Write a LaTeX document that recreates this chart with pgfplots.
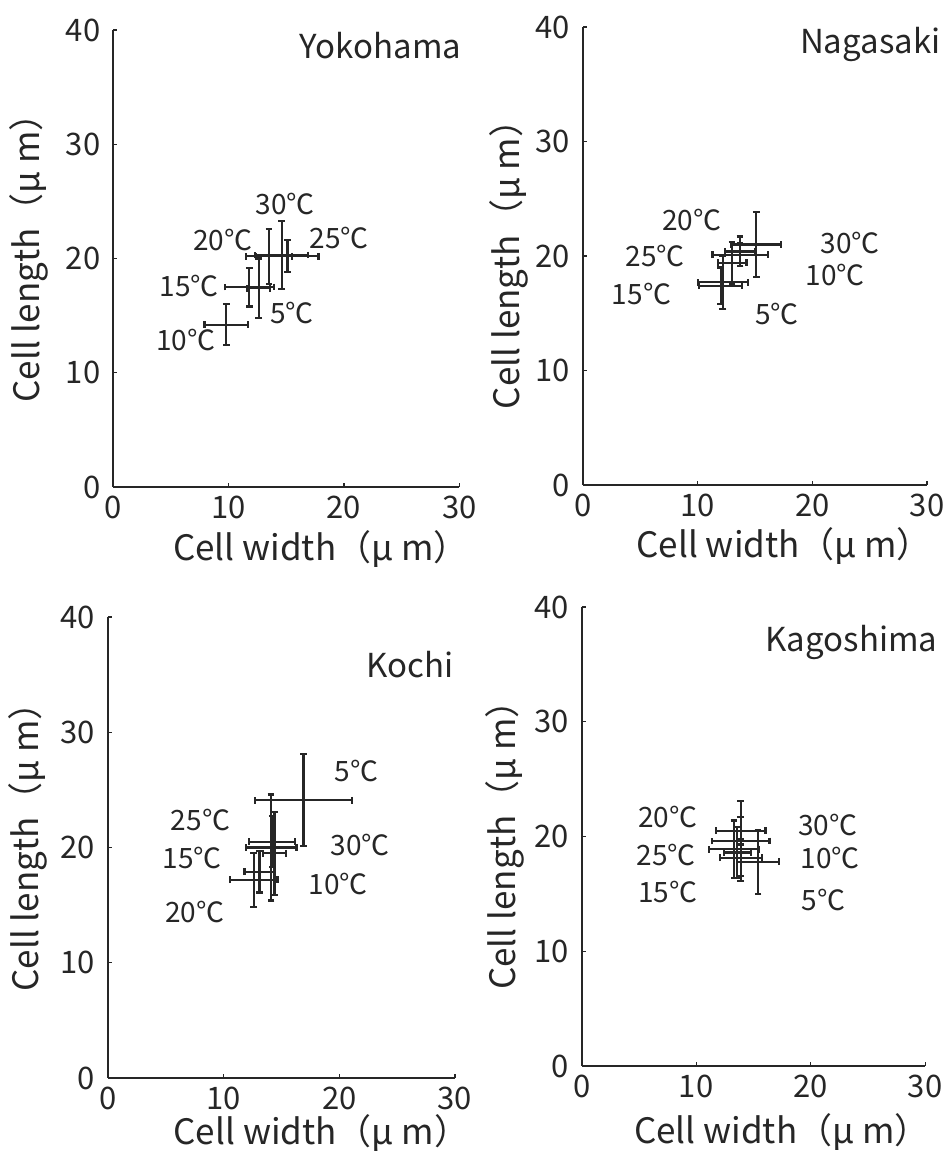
\documentclass[border=0pt]{standalone}
\usepackage{pgfplots}
\pgfplotsset{compat=1.18}
\usepackage{pgfplotstable}
\usepackage{fontspec}
\setmainfont{Noto Sans CJK JP}
\definecolor{ink}{rgb}{0.15,0.15,0.15}

\pgfplotstableread{
T x y ex ey
5 12.6 17.4 1.0 2.6
10 9.8 14.2 1.9 1.8
15 11.8 17.5 2.1 1.7
20 13.5 20.2 2.0 2.4
25 15.1 20.2 2.7 1.4
30 14.6 20.3 2.3 3.0
}\yokohama
\pgfplotstableread{
T x y ex ey
5 12.2 17.7 2.2 2.3
10 13.0 19.4 1.25 1.8
15 12.0 17.4 1.9 1.6
20 13.7 20.1 2.4 1.0
25 13.7 20.4 1.3 1.3
30 15.1 21.0 2.15 2.85
}\nagasaki
\pgfplotstableread{
T x y ex ey
5 16.9 24.1 4.2 4.0
10 14.4 19.5 1.0 3.6
15 13.1 17.9 1.3 1.8
20 12.6 17.2 2.05 2.35
25 14.1 20.0 2.2 4.6
30 14.2 20.5 2.0 2.2
}\kochi
\pgfplotstableread{
T x y ex ey
5 15.4 17.8 1.85 2.8
10 13.9 18.15 1.85 1.6
15 13.6 18.6 1.2 2.2
20 13.9 20.5 2.15 1.2
25 13.3 18.9 2.15 2.5
30 13.9 19.6 2.5 3.5
}\kagoshima

\tikzset{
  tl/.style={font=\fontsize{14}{16}\selectfont, text=ink, inner sep=0pt},
  ttl/.style={font=\fontsize{16.5}{18}\selectfont, text=ink, anchor=east, inner sep=0pt},
}
\pgfplotsset{
  panel/.style={
    scale only axis,
    axis lines=left,
    axis line style={-, ink, line width=0.8pt},
    xmin=0, xmax=30, ymin=0, ymax=40,
    xtick={0,10,20,30}, ytick={0,10,20,30,40},
    tick align=inside, major tick length=2pt,
    tick style={ink, line width=0.6pt},
    ticklabel style={font=\fontsize{15.5}{17}\selectfont, text=ink},
    /pgf/number format/assume math mode=true,
    xticklabel style={yshift=-1pt},
    yticklabel style={xshift=-3pt},
    xlabel={Cell width（μ m）},
    ylabel={Cell length（μ m）},
    clip=false,
  },
  xl/.style 2 args={xlabel style={at={(axis description cs:#1,#2)}, anchor=center,
    font=\fontsize{17.5}{19}\selectfont, text=ink}},
  yl/.style 2 args={ylabel style={at={(axis description cs:#1,#2)}, anchor=center, rotate=0,
    font=\fontsize{17.5}{19}\selectfont, text=ink}},
  eb/.style={draw=none, mark=none, line width=1.1pt,
    error bars/.cd, x dir=both, x explicit, y dir=both, y explicit,
    error bar style={draw=ink, solid, line width=1.1pt},
    error mark=-,
    error mark options={rotate=90, draw=ink, solid, line width=1.1pt, mark size=1.7pt}},
}

\begin{document}
\begin{tikzpicture}
\useasboundingbox (0,0) rectangle (473pt,575.5pt);

% Yokohama
\begin{axis}[panel, at={(56.65pt,332pt)}, anchor=origin, width=173pt, height=228.5pt,
  yl={-0.245}{0.52}, xl={0.6}{-0.135}]
\addplot[eb] table[x=x,y=y,x error=ex,y error=ey]{\yokohama};
\node[ttl] at (axis cs:30.2,38.6) {Yokohama};
\node[tl] at (axis cs:14.9,24.8) {30℃};
\node[tl] at (axis cs:9.5,21.6) {20℃};
\node[tl] at (axis cs:19.6,21.8) {25℃};
\node[tl] at (axis cs:6.6,17.6) {15℃};
\node[tl] at (axis cs:15.5,15.2) {5℃};
\node[tl] at (axis cs:6.3,12.9) {10℃};
\end{axis}

% Nagasaki
\begin{axis}[panel, at={(291.5pt,333pt)}, anchor=origin, width=172pt, height=229pt,
  yl={-0.215}{0.5}, xl={0.585}{-0.133}]
\addplot[eb] table[x=x,y=y,x error=ex,y error=ey]{\nagasaki};
\node[ttl] at (axis cs:31.2,38.5) {Nagasaki};
\node[tl] at (axis cs:9.5,23.1) {20℃};
\node[tl] at (axis cs:6.3,20.0) {25℃};
\node[tl] at (axis cs:23.3,21.1) {30℃};
\node[tl] at (axis cs:22.0,18.3) {10℃};
\node[tl] at (axis cs:5.1,16.7) {15℃};
\node[tl] at (axis cs:16.9,14.9) {5℃};
\end{axis}

% Kochi
\begin{axis}[panel, at={(54pt,36.5pt)}, anchor=origin, width=173.5pt, height=230.5pt,
  yl={-0.23}{0.52}, xl={0.615}{-0.12}]
\addplot[eb] table[x=x,y=y,x error=ex,y error=ey]{\kochi};
\node[ttl] at (axis cs:29.9,35.9) {Kochi};
\node[tl] at (axis cs:21.5,26.6) {5℃};
\node[tl] at (axis cs:8.0,22.4) {25℃};
\node[tl] at (axis cs:21.8,20.2) {30℃};
\node[tl] at (axis cs:7.3,19.1) {15℃};
\node[tl] at (axis cs:19.9,16.8) {10℃};
\node[tl] at (axis cs:7.5,14.4) {20℃};
\end{axis}

% Kagoshima
\begin{axis}[panel, at={(290.85pt,42.5pt)}, anchor=origin, width=171.7pt, height=229.5pt,
  yl={-0.225}{0.5}, xl={0.583}{-0.144}]
\addplot[eb] table[x=x,y=y,x error=ex,y error=ey]{\kagoshima};
\node[ttl] at (axis cs:31.1,36.9) {Kagoshima};
\node[tl] at (axis cs:7.5,21.7) {20℃};
\node[tl] at (axis cs:21.5,21.0) {30℃};
\node[tl] at (axis cs:7.4,18.4) {25℃};
\node[tl] at (axis cs:21.7,18.1) {10℃};
\node[tl] at (axis cs:7.5,15.2) {15℃};
\node[tl] at (axis cs:21.1,14.5) {5℃};
\end{axis}
\end{tikzpicture}
\end{document}
